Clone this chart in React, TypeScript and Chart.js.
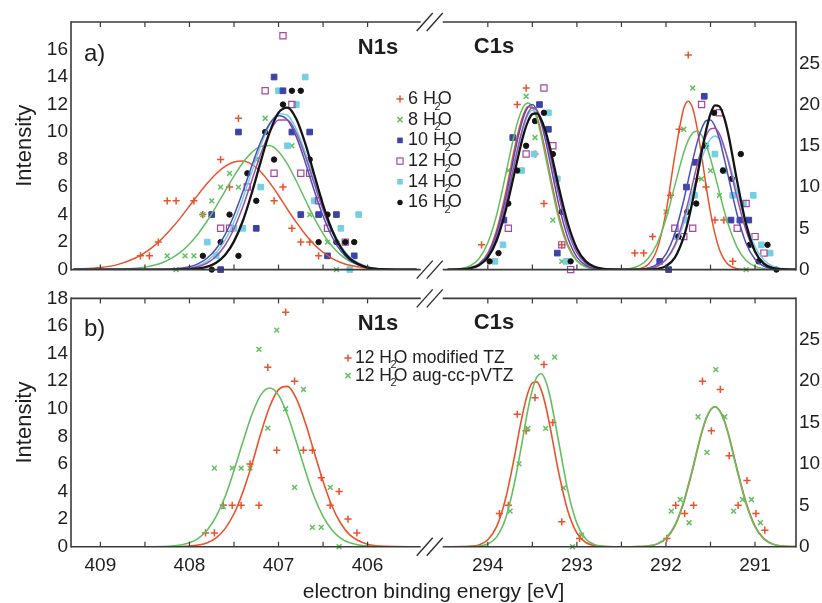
import React, { useEffect, useRef } from 'react';
import { Chart, registerables } from 'chart.js';

Chart.register(...registerables);

const FONT = '"Liberation Sans", Arial, Helvetica, sans-serif';
const TEXT = '#1e1e1e';

// ---------- broken energy axis ----------
const N_SHIFT = 110.65; // N1s energies are shifted to sit left of the axis break
const BREAK_C = 294.63; // C1s energy at the break
const X_MIN = 290.54;
const X_MAX = 298.68; // 409.33 eV on the N1s side
const X_TICKS_EV = [409, 408.5, 408, 407.5, 407, 406.5, 406, 294, 293.5, 293, 292.5, 292, 291.5, 291];
const toAxis = (e: number) => (e > 350 ? e - N_SHIFT : e);

// ---------- curve energy grids ----------
const N1S_GRID = [409.3, 409.0, 408.8, 408.6, 408.5, 408.4, 408.3, 408.2, 408.1, 408.0, 407.9, 407.8, 407.7, 407.6, 407.5, 407.4, 407.3, 407.2, 407.1, 407.0, 406.9, 406.8, 406.7, 406.6, 406.5, 406.4, 406.3, 406.2, 406.0, 405.8, 405.45];
const C1S_GRID = [294.45, 294.3, 294.2, 294.1, 294.0, 293.9, 293.8, 293.7, 293.65, 293.6, 293.55, 293.5, 293.45, 293.4, 293.35, 293.3, 293.2, 293.1, 293.0, 292.9, 292.8, 292.7, 292.6, 292.5, 292.4, 292.3, 292.2, 292.1, 292.0, 291.9, 291.8, 291.75, 291.7, 291.65, 291.6, 291.55, 291.5, 291.45, 291.4, 291.35, 291.3, 291.2, 291.1, 291.0, 290.9, 290.8, 290.7, 290.54];

// ---------- panel a: fitted curves ----------
const A_CURVE_N_6 = [0.03, 0.15, 0.38, 0.86, 1.23, 1.71, 2.3, 3.0, 3.78, 4.62, 5.47, 6.27, 6.97, 7.5, 7.82, 7.9, 7.65, 7.11, 6.32, 5.39, 4.39, 3.43, 2.57, 1.83, 1.26, 0.82, 0.52, 0.31, 0.1, 0.02, 0];
const A_CURVE_N_8 = [0, 0.01, 0.03, 0.1, 0.18, 0.31, 0.52, 0.84, 1.27, 1.86, 2.63, 3.55, 4.6, 5.71, 6.8, 7.77, 8.52, 8.96, 9.02, 8.59, 7.67, 6.44, 5.08, 3.76, 2.62, 1.71, 1.05, 0.61, 0.17, 0.04, 0];
const A_CURVE_N_10 = [0, 0, 0, 0, 0, 0, 0.01, 0.04, 0.09, 0.2, 0.43, 0.84, 1.52, 2.55, 3.95, 5.67, 7.55, 9.29, 10.6, 11.18, 10.88, 9.65, 7.81, 5.77, 3.89, 2.39, 1.34, 0.69, 0.14, 0.02, 0];
const A_CURVE_N_12 = [0, 0, 0, 0, 0, 0, 0, 0.01, 0.04, 0.09, 0.22, 0.48, 0.97, 1.77, 2.97, 4.58, 6.48, 8.4, 9.98, 10.88, 10.88, 9.92, 8.26, 6.27, 4.34, 2.74, 1.58, 0.83, 0.17, 0.03, 0];
const A_CURVE_N_14 = [0, 0, 0, 0, 0, 0, 0, 0.02, 0.06, 0.14, 0.31, 0.64, 1.22, 2.14, 3.47, 5.17, 7.11, 9.01, 10.52, 11.33, 11.22, 10.2, 8.51, 6.51, 4.56, 2.94, 1.74, 0.93, 0.21, 0.03, 0];
const A_CURVE_N_16 = [0, 0, 0, 0, 0, 0, 0, 0, 0.01, 0.03, 0.08, 0.21, 0.5, 1.06, 2.05, 3.55, 5.57, 7.85, 9.97, 11.41, 11.78, 10.95, 9.17, 6.93, 4.71, 2.89, 1.6, 0.79, 0.14, 0.02, 0];

const A_CURVE_C_6 = [0, 0.04, 0.19, 0.69, 2.0, 4.83, 9.3, 14.7, 17.07, 18.8, 19.72, 19.6, 18.55, 16.63, 14.16, 11.42, 6.44, 2.95, 1.09, 0.33, 0.08, 0.02, 0, 0, 0.01, 0.11, 0.61, 2.45, 6.94, 13.85, 19.54, 20.4, 19.54, 17.14, 13.85, 10.18, 6.94, 4.33, 2.45, 1.29, 0.61, 0.11, 0.01, 0, 0, 0, 0, 0];
const A_CURVE_C_8 = [0, 0.13, 0.44, 1.31, 3.25, 6.67, 11.49, 16.46, 18.42, 19.76, 20.2, 19.71, 18.32, 16.16, 13.6, 10.9, 6.0, 2.73, 1.03, 0.31, 0.08, 0.02, 0.01, 0.04, 0.15, 0.48, 1.34, 3.14, 6.13, 10.2, 14.2, 15.66, 16.56, 16.8, 16.28, 15.12, 13.44, 11.46, 9.36, 7.29, 5.46, 2.67, 1.11, 0.39, 0.11, 0.03, 0.01, 0];
const A_CURVE_C_10 = [0, 0.04, 0.18, 0.64, 1.86, 4.46, 8.7, 14.04, 16.5, 18.46, 19.68, 20.0, 19.3, 17.74, 15.54, 12.96, 7.72, 3.8, 1.52, 0.5, 0.14, 0.03, 0, 0, 0.01, 0.04, 0.19, 0.65, 1.87, 4.37, 8.43, 10.81, 13.21, 15.38, 17.05, 18.04, 18.13, 17.35, 15.82, 13.65, 11.27, 6.64, 3.17, 1.26, 0.4, 0.11, 0.02, 0];
const A_CURVE_C_12 = [0, 0.04, 0.17, 0.59, 1.67, 4.02, 7.88, 12.94, 15.35, 17.46, 18.95, 19.6, 19.33, 18.17, 16.29, 13.92, 8.86, 4.63, 2.02, 0.73, 0.22, 0.05, 0, 0, 0, 0.03, 0.11, 0.41, 1.22, 2.99, 6.19, 8.19, 10.44, 12.69, 14.62, 16.19, 17.05, 17.13, 16.44, 15.02, 13.07, 8.67, 4.71, 2.13, 0.79, 0.25, 0.06, 0];
const A_CURVE_C_14 = [0, 0.05, 0.2, 0.66, 1.83, 4.25, 8.09, 12.99, 15.3, 17.29, 18.68, 19.3, 19.03, 17.95, 16.12, 13.9, 9.07, 4.86, 2.18, 0.83, 0.26, 0.07, 0, 0, 0, 0.03, 0.12, 0.41, 1.17, 2.79, 5.59, 7.42, 9.43, 11.45, 13.33, 14.84, 15.84, 16.2, 15.84, 14.84, 13.33, 9.43, 5.59, 2.79, 1.17, 0.41, 0.12, 0.01];
const A_CURVE_C_16 = [0, 0.04, 0.15, 0.52, 1.48, 3.56, 7.13, 11.77, 14.14, 16.33, 17.93, 18.84, 18.93, 18.16, 16.67, 14.65, 9.82, 5.52, 2.57, 1.0, 0.33, 0.09, 0.02, 0, 0, 0, 0.02, 0.1, 0.42, 1.45, 3.96, 5.92, 8.39, 11.26, 14.2, 16.85, 18.88, 19.9, 19.78, 18.53, 16.4, 10.66, 5.48, 2.2, 0.7, 0.18, 0.04, 0];

// ---------- panel a: computed spectra (points) ----------
const A_PTS_N_6_E = [408.55, 408.45, 408.35, 408.25, 408.15, 407.95, 407.85, 407.65, 407.55, 407.45, 407.05, 406.95, 406.85, 406.75, 406.65, 406.55];
const A_PTS_N_6_I = [1, 1, 2, 5, 5, 5, 4, 8, 6, 11, 5, 6, 3, 2, 2, 1];
const A_PTS_N_8_E = [408.25, 408.15, 408.05, 407.95, 407.85, 407.75, 407.65, 407.55, 407.45, 407.25, 407.15, 406.85, 406.65, 406.55, 406.45, 406.35];
const A_PTS_N_8_I = [1, 0, 1, 1, 4, 5, 6, 7, 6, 8, 11, 9, 4, 4, 2, 0];
const A_PTS_N_10_E = [407.75, 407.65, 407.45, 407.25, 407.05, 406.95, 406.85, 406.75, 406.65, 406.55, 406.45, 406.35, 406.15];
const A_PTS_N_10_I = [4, 0, 10, 3, 14, 13, 10, 4, 10, 4, 1, 4, 1];
const A_PTS_N_12_E = [407.65, 407.55, 407.35, 407.15, 407.05, 406.95, 406.85, 406.75, 406.65, 406.55, 406.45, 406.25];
const A_PTS_N_12_I = [3, 3, 6, 13, 7, 17, 12, 7, 7, 5, 3, 2];
const A_PTS_N_14_E = [407.8, 407.7, 407.5, 407.4, 407.2, 407.0, 406.9, 406.8, 406.7, 406.6, 406.3, 406.2, 406.1];
const A_PTS_N_14_I = [2, 1, 3, 3, 6, 13, 9, 12, 14, 5, 3, 0, 4];
const A_PTS_N_16_E = [407.85, 407.75, 407.65, 407.55, 407.45, 407.35, 407.25, 407.15, 407.05, 406.95, 406.85, 406.75, 406.65, 406.55, 406.45, 406.35, 406.25, 406.15];
const A_PTS_N_16_I = [1, 0, 2, 4, 1, 7, 5, 10, 8, 12, 13, 13, 8, 2, 4, 2, 2, 2];

const A_PTS_C_6_E = [294.07, 293.67, 293.57, 293.47, 293.37, 293.17, 292.35, 292.25, 292.15, 291.95, 291.85, 291.75, 291.65, 291.55, 291.45, 291.35, 291.25];
const A_PTS_C_6_I = [3, 20, 22, 14, 8, 3, 2, 2, 4, 9, 17, 26, 11, 10, 6, 6, 1];
const A_PTS_C_8_E = [293.97, 293.77, 293.57, 293.47, 293.27, 293.17, 292.0, 291.8, 291.7, 291.6, 291.5, 291.4, 291.3, 291.1];
const A_PTS_C_8_I = [1, 12, 21, 16, 6, 1, 7, 17, 22, 11, 12, 9, 6, 0];
const A_PTS_C_10_E = [293.82, 293.72, 293.42, 293.32, 293.22, 292.07, 291.97, 291.77, 291.67, 291.57, 291.27, 291.17, 291.07];
const A_PTS_C_10_I = [6, 16, 20, 17, 2, 1, 0, 10, 13, 21, 6, 6, 6];
const A_PTS_C_12_E = [293.77, 293.57, 293.37, 293.27, 293.17, 293.07, 291.9, 291.8, 291.7, 291.6, 291.4, 291.2, 291.1, 291.0, 290.9];
const A_PTS_C_12_I = [5, 14, 22, 15, 3, 0, 5, 4, 5, 20, 19, 5, 8, 4, 2];
const A_PTS_C_14_E = [293.92, 293.83, 293.62, 293.48, 293.32, 293.22, 293.12, 291.88, 291.78, 291.68, 291.55, 291.45, 291.35, 291.25, 291.13, 291.02, 290.93, 290.83];
const A_PTS_C_14_I = [1, 3, 12, 14, 19, 11, 1, 4, 6, 9, 15, 14, 12, 9, 8, 9, 3, 2];
const A_PTS_C_16_E = [293.98, 293.88, 293.77, 293.67, 293.57, 293.47, 293.37, 293.27, 293.17, 293.07, 291.86, 291.76, 291.66, 291.56, 291.46, 291.36, 291.26, 291.16, 291.06, 290.96, 290.86, 290.76];
const A_PTS_C_16_I = [1, 2, 8, 12, 15, 18, 19, 14, 7, 1, 4, 7, 8, 15, 19, 12, 11, 14, 3, 1, 3, 0];

// ---------- panel b ----------
const B_CURVE_N_TZ = [0, 0, 0, 0, 0, 0, 0, 0, 0.01, 0.04, 0.12, 0.29, 0.64, 1.31, 2.39, 3.97, 5.95, 8.19, 10.14, 11.39, 11.62, 10.74, 9.01, 6.86, 4.75, 2.95, 1.68, 0.86, 0.17, 0.02, 0];
const B_CURVE_N_AUG = [0, 0, 0, 0, 0, 0, 0.01, 0.04, 0.12, 0.28, 0.61, 1.21, 2.2, 3.62, 5.52, 7.6, 9.56, 10.99, 11.5, 10.99, 9.56, 7.6, 5.52, 3.62, 2.2, 1.21, 0.61, 0.28, 0.04, 0, 0];
const B_CURVE_C_TZ = [0, 0.01, 0.05, 0.22, 0.84, 2.45, 5.82, 10.93, 13.84, 16.5, 18.6, 19.8, 19.91, 18.92, 17.0, 14.4, 8.73, 4.24, 1.64, 0.51, 0.12, 0.02, 0, 0, 0, 0.02, 0.08, 0.31, 0.97, 2.48, 5.33, 7.27, 9.33, 11.58, 13.69, 15.4, 16.5, 16.9, 16.5, 15.4, 13.69, 9.33, 5.33, 2.48, 0.97, 0.31, 0.08, 0.01];
const B_CURVE_C_AUG = [0, 0, 0.01, 0.07, 0.33, 1.19, 3.43, 7.73, 10.53, 13.56, 16.57, 18.96, 20.48, 20.9, 20.02, 18.06, 12.41, 6.69, 2.82, 0.94, 0.25, 0.05, 0, 0, 0, 0.02, 0.09, 0.34, 1.04, 2.6, 5.5, 7.45, 9.5, 11.75, 13.8, 15.5, 16.55, 16.93, 16.45, 15.3, 13.55, 9.15, 5.17, 2.38, 0.92, 0.29, 0.07, 0.01];

const B_PTS_N_TZ_E = [407.82, 407.72, 407.62, 407.52, 407.42, 407.32, 407.22, 407.12, 407.02, 406.92, 406.82, 406.72, 406.62, 406.52, 406.42, 406.32, 406.22, 406.12];
const B_PTS_N_TZ_I = [1, 1, 3, 3, 3, 6, 3, 13, 7, 17, 12, 7, 7, 5, 3, 4, 2, 1];
const B_PTS_N_AUG_E = [407.72, 407.62, 407.52, 407.42, 407.32, 407.22, 407.12, 407.02, 406.92, 406.82, 406.72, 406.62, 406.52, 406.42, 406.32];
const B_PTS_N_AUG_I = [5.7, 2.9, 5.7, 5.7, 5.7, 14.3, 8.6, 15.7, 10, 4.3, 11.4, 1.4, 1.4, 4.3, 0];
const B_PTS_C_TZ_E = [293.87, 293.77, 293.67, 293.57, 293.47, 293.37, 293.27, 293.17, 292.97, 291.99, 291.89, 291.79, 291.69, 291.59, 291.49, 291.39, 291.29, 291.19, 291.09, 290.99, 290.89];
const B_PTS_C_TZ_I = [4, 5, 16, 14, 18, 22, 15, 3, 1, 1, 5, 4, 5, 20, 14, 19, 11, 5, 8, 4, 2];
const B_PTS_C_AUG_E = [293.75, 293.65, 293.55, 293.45, 293.35, 293.25, 293.15, 293.05, 292.95, 291.94, 291.84, 291.74, 291.64, 291.54, 291.44, 291.34, 291.24, 291.14, 291.04, 290.94];
const B_PTS_C_AUG_I = [4.3, 10, 14.3, 22.9, 14.3, 22.9, 7.1, 0, 1.4, 4.3, 5.7, 2.9, 15.7, 11.4, 21.4, 15.7, 4.3, 5.7, 5.7, 2.9];

// ---------- series tables ----------
const RED = '#e8522c';
const GREEN = '#63bf5f';
const BLUE = '#3d42a6';
const MAGENTA = '#a8469e';
const CYAN = '#74cfe2';
const BLACK = '#141414';

type Series = {
  prefix: string; suffix: string; color: string; curveColor: string; lw: number; order: number;
  marker: string; cN: number[]; cC: number[]; pNE: number[]; pNI: number[]; pCE: number[]; pCI: number[];
};

const SERIES_A: Series[] = [
  { prefix: '6 ', suffix: '', color: RED, curveColor: RED, lw: 1.5, order: 6, marker: 'cross', cN: A_CURVE_N_6, cC: A_CURVE_C_6, pNE: A_PTS_N_6_E, pNI: A_PTS_N_6_I, pCE: A_PTS_C_6_E, pCI: A_PTS_C_6_I },
  { prefix: '8 ', suffix: '', color: GREEN, curveColor: GREEN, lw: 1.5, order: 5, marker: 'crossRot', cN: A_CURVE_N_8, cC: A_CURVE_C_8, pNE: A_PTS_N_8_E, pNI: A_PTS_N_8_I, pCE: A_PTS_C_8_E, pCI: A_PTS_C_8_I },
  { prefix: '10 ', suffix: '', color: BLUE, curveColor: '#4a4fb5', lw: 1.5, order: 3, marker: 'rectFill', cN: A_CURVE_N_10, cC: A_CURVE_C_10, pNE: A_PTS_N_10_E, pNI: A_PTS_N_10_I, pCE: A_PTS_C_10_E, pCI: A_PTS_C_10_I },
  { prefix: '12 ', suffix: '', color: MAGENTA, curveColor: '#9a4fb0', lw: 1.5, order: 2, marker: 'rectOpen', cN: A_CURVE_N_12, cC: A_CURVE_C_12, pNE: A_PTS_N_12_E, pNI: A_PTS_N_12_I, pCE: A_PTS_C_12_E, pCI: A_PTS_C_12_I },
  { prefix: '14 ', suffix: '', color: CYAN, curveColor: CYAN, lw: 1.5, order: 4, marker: 'rectFill', cN: A_CURVE_N_14, cC: A_CURVE_C_14, pNE: A_PTS_N_14_E, pNI: A_PTS_N_14_I, pCE: A_PTS_C_14_E, pCI: A_PTS_C_14_I },
  { prefix: '16 ', suffix: '', color: BLACK, curveColor: BLACK, lw: 2.3, order: 1, marker: 'circle', cN: A_CURVE_N_16, cC: A_CURVE_C_16, pNE: A_PTS_N_16_E, pNI: A_PTS_N_16_I, pCE: A_PTS_C_16_E, pCI: A_PTS_C_16_I },
];

const SERIES_B: Series[] = [
  { prefix: '12 ', suffix: ' modified TZ', color: RED, curveColor: RED, lw: 1.6, order: 2, marker: 'cross', cN: B_CURVE_N_TZ, cC: B_CURVE_C_TZ, pNE: B_PTS_N_TZ_E, pNI: B_PTS_N_TZ_I, pCE: B_PTS_C_TZ_E, pCI: B_PTS_C_TZ_I },
  { prefix: '12 ', suffix: ' aug-cc-pVTZ', color: GREEN, curveColor: GREEN, lw: 1.6, order: 1, marker: 'crossRot', cN: B_CURVE_N_AUG, cC: B_CURVE_C_AUG, pNE: B_PTS_N_AUG_E, pNI: B_PTS_N_AUG_I, pCE: B_PTS_C_AUG_E, pCI: B_PTS_C_AUG_I },
];

// ---------- helpers ----------
function pointStyleFor(s: Series) {
  switch (s.marker) {
    case 'cross': return { pointStyle: 'cross', pointRadius: 3.6, borderColor: s.color, backgroundColor: s.color, borderWidth: 1.5 };
    case 'crossRot': return { pointStyle: 'crossRot', pointRadius: 3.4, borderColor: s.color, backgroundColor: s.color, borderWidth: 1.5 };
    case 'rectFill': return { pointStyle: 'rect', pointRadius: 4.0, borderColor: s.color, backgroundColor: s.color, borderWidth: 1 };
    case 'rectOpen': return { pointStyle: 'rect', pointRadius: 4.4, borderColor: s.color, backgroundColor: 'rgba(255,255,255,0)', borderWidth: 1.2 };
    default: return { pointStyle: 'circle', pointRadius: 2.7, borderColor: s.color, backgroundColor: s.color, borderWidth: 1 };
  }
}

function lineDs(grid: number[], vals: number[], s: Series, yAxisID: string) {
  return {
    type: 'scatter',
    data: grid.map((e, i) => ({ x: toAxis(e), y: vals[i] })),
    showLine: true,
    borderColor: s.curveColor,
    backgroundColor: s.curveColor,
    borderWidth: s.lw,
    pointRadius: 0,
    cubicInterpolationMode: 'monotone',
    yAxisID,
    order: s.order,
  };
}

function pointDs(es: number[], is: number[], s: Series, yAxisID: string) {
  return {
    type: 'scatter',
    data: es.map((e, i) => ({ x: toAxis(e), y: is[i] })),
    showLine: false,
    yAxisID,
    order: 10 + s.order,
    clip: false,
    ...pointStyleFor(s),
  };
}

function seg(ctx: CanvasRenderingContext2D, x1: number, y1: number, x2: number, y2: number) {
  ctx.beginPath();
  ctx.moveTo(x1, y1);
  ctx.lineTo(x2, y2);
  ctx.stroke();
}

function drawMarker(ctx: CanvasRenderingContext2D, s: Series, x: number, y: number) {
  ctx.save();
  ctx.strokeStyle = s.color;
  ctx.fillStyle = s.color;
  ctx.lineWidth = 1.5;
  if (s.marker === 'cross') {
    seg(ctx, x - 3.6, y, x + 3.6, y); seg(ctx, x, y - 3.6, x, y + 3.6);
  } else if (s.marker === 'crossRot') {
    seg(ctx, x - 2.6, y - 2.6, x + 2.6, y + 2.6); seg(ctx, x - 2.6, y + 2.6, x + 2.6, y - 2.6);
  } else if (s.marker === 'rectFill') {
    ctx.fillRect(x - 2.8, y - 2.8, 5.6, 5.6);
  } else if (s.marker === 'rectOpen') {
    ctx.lineWidth = 1.2; ctx.strokeRect(x - 3.1, y - 3.1, 6.2, 6.2);
  } else {
    ctx.beginPath(); ctx.arc(x, y, 2.7, 0, Math.PI * 2); ctx.fill();
  }
  ctx.restore();
}

function drawH2O(ctx: CanvasRenderingContext2D, x: number, y: number, prefix: string, suffix: string, size: number) {
  ctx.textAlign = 'left';
  ctx.textBaseline = 'middle';
  ctx.font = `${size}px ${FONT}`;
  const head = prefix + 'H';
  ctx.fillText(head, x, y);
  const w = ctx.measureText(head).width;
  ctx.font = `${Math.round(size * 0.62)}px ${FONT}`;
  ctx.fillText('2', x + w - size * 0.08, y + size * 0.42);
  ctx.font = `${size}px ${FONT}`;
  ctx.fillText('O' + suffix, x + w + size * 0.1, y);
}

function decorPlugin(isA: boolean) {
  return {
    id: isA ? 'decorA' : 'decorB',
    afterDatasetsDraw(chart: any) {
      const ctx: CanvasRenderingContext2D = chart.ctx;
      const { left, right, top, bottom } = chart.chartArea;
      const xs = chart.scales.x;
      const bx = xs.getPixelForValue(BREAK_C);
      ctx.save();
      ctx.strokeStyle = '#3a3a3a';
      ctx.lineWidth = 1.6;
      seg(ctx, left, top - 0.8, left, bottom + 0.8);
      seg(ctx, right, top - 0.8, right, bottom + 0.8);
      for (const y of [top, bottom]) {
        seg(ctx, left, y, bx - 11, y);
        seg(ctx, bx + 11, y, right, y);
      }
      ctx.lineWidth = 1.2;
      for (const e of X_TICKS_EV) {
        const px = xs.getPixelForValue(toAxis(e));
        seg(ctx, px, bottom, px, bottom - 5);
        seg(ctx, px, top, px, top + 5);
      }
      ctx.strokeStyle = '#2e2e2e';
      ctx.lineWidth = 1.4;
      for (const y of [top, bottom]) {
        seg(ctx, bx - 15, y + 9, bx + 1, y - 9);
        seg(ctx, bx - 5, y + 9, bx + 11, y - 9);
      }
      ctx.restore();
    },
    afterDraw(chart: any) {
      const ctx: CanvasRenderingContext2D = chart.ctx;
      ctx.save();
      ctx.fillStyle = TEXT;
      ctx.textBaseline = 'middle';
      ctx.textAlign = 'left';
      ctx.font = `24px ${FONT}`;
      ctx.fillText(isA ? 'a)' : 'b)', 84, isA ? 54 : 45);
      ctx.font = `bold 22px ${FONT}`;
      ctx.textAlign = 'center';
      ctx.fillText('N1s', 378, isA ? 48 : 40);
      ctx.fillText('C1s', 494, isA ? 47 : 39);
      if (isA) {
        SERIES_A.forEach((s, i) => {
          const y = 99 + i * 20.7;
          drawMarker(ctx, s, 400, y);
          ctx.fillStyle = TEXT;
          drawH2O(ctx, 408, y, s.prefix, s.suffix, 18);
        });
      } else {
        SERIES_B.forEach((s, i) => {
          const y = 74 + i * 17.7;
          drawMarker(ctx, s, 348, y);
          ctx.fillStyle = TEXT;
          drawH2O(ctx, 355, y, s.prefix, s.suffix, 17.5);
        });
      }
      ctx.restore();
    },
  };
}

function buildConfig(isA: boolean): any {
  const series = isA ? SERIES_A : SERIES_B;
  const datasets: any[] = [];
  series.forEach((s) => {
    datasets.push(lineDs(N1S_GRID, s.cN, s, 'y'));
    datasets.push(lineDs(C1S_GRID, s.cC, s, 'y2'));
    datasets.push(pointDs(s.pNE, s.pNI, s, 'y'));
    datasets.push(pointDs(s.pCE, s.pCI, s, 'y2'));
  });
  const tickFont = { family: FONT, size: 19 };
  return {
    type: 'scatter',
    data: { datasets },
    plugins: [decorPlugin(isA)],
    options: {
      responsive: false,
      animation: false,
      devicePixelRatio: 1,
      events: [],
      layout: { padding: { top: isA ? 22 : 13.3, left: 0, right: 0, bottom: 0 } },
      plugins: { legend: { display: false }, tooltip: { enabled: false } },
      scales: {
        x: {
          type: 'linear',
          reverse: true,
          min: X_MIN,
          max: X_MAX,
          grid: { display: false, drawTicks: false },
          border: { display: false },
          afterBuildTicks: (scale: any) => {
            scale.ticks = X_TICKS_EV.map((e) => ({ value: toAxis(e) }));
          },
          afterFit: (scale: any) => {
            scale.height = isA ? 12.3 : 56.3;
          },
          ticks: {
            display: !isA,
            autoSkip: false,
            maxRotation: 0,
            padding: 8,
            font: tickFont,
            color: TEXT,
            callback: (v: number) => {
              const e = v > BREAK_C + 1e-6 ? v + N_SHIFT : v;
              const r = Math.round(e);
              return Math.abs(e - r) < 1e-6 ? String(r) : '';
            },
          },
          title: {
            display: !isA,
            text: 'electron binding energy [eV]',
            color: TEXT,
            font: { family: FONT, size: 21, lineHeight: 1 },
            padding: { top: 0, bottom: 0 },
          },
        },
        y: {
          position: 'left',
          min: 0,
          max: 18,
          grid: { display: false, drawTicks: false },
          border: { display: false },
          afterFit: (scale: any) => { scale.width = 71; },
          ticks: {
            stepSize: 2,
            padding: 3,
            font: tickFont,
            color: TEXT,
            callback: (v: number) => (isA && v === 18 ? '' : String(v)),
          },
          title: {
            display: true,
            text: 'Intensity',
            color: TEXT,
            font: { family: FONT, size: 22 },
            padding: { top: 12, bottom: 0 },
          },
        },
        y2: {
          position: 'right',
          min: 0,
          max: 30,
          grid: { display: false, drawTicks: false },
          border: { display: false },
          afterFit: (scale: any) => { scale.width = 26; },
          ticks: {
            stepSize: 5,
            padding: 3,
            font: tickFont,
            color: TEXT,
            callback: (v: number) => (v === 30 ? '' : String(v)),
          },
        },
      },
    },
  };
}

export default function App() {
  const refA = useRef<HTMLCanvasElement>(null);
  const refB = useRef<HTMLCanvasElement>(null);
  useEffect(() => {
    const a = new Chart(refA.current as HTMLCanvasElement, buildConfig(true));
    const b = new Chart(refB.current as HTMLCanvasElement, buildConfig(false));
    return () => {
      a.destroy();
      b.destroy();
    };
  }, []);
  return (
    <div style={{ position: 'absolute', left: 0, top: 0, width: 822, height: 603, background: '#fff', overflow: 'hidden' }}>
      <canvas ref={refA} width={822} height={284} style={{ position: 'absolute', left: 0, top: 0, width: 822, height: 284 }} />
      <canvas ref={refB} width={822} height={319} style={{ position: 'absolute', left: 0, top: 284, width: 822, height: 319 }} />
    </div>
  );
}
